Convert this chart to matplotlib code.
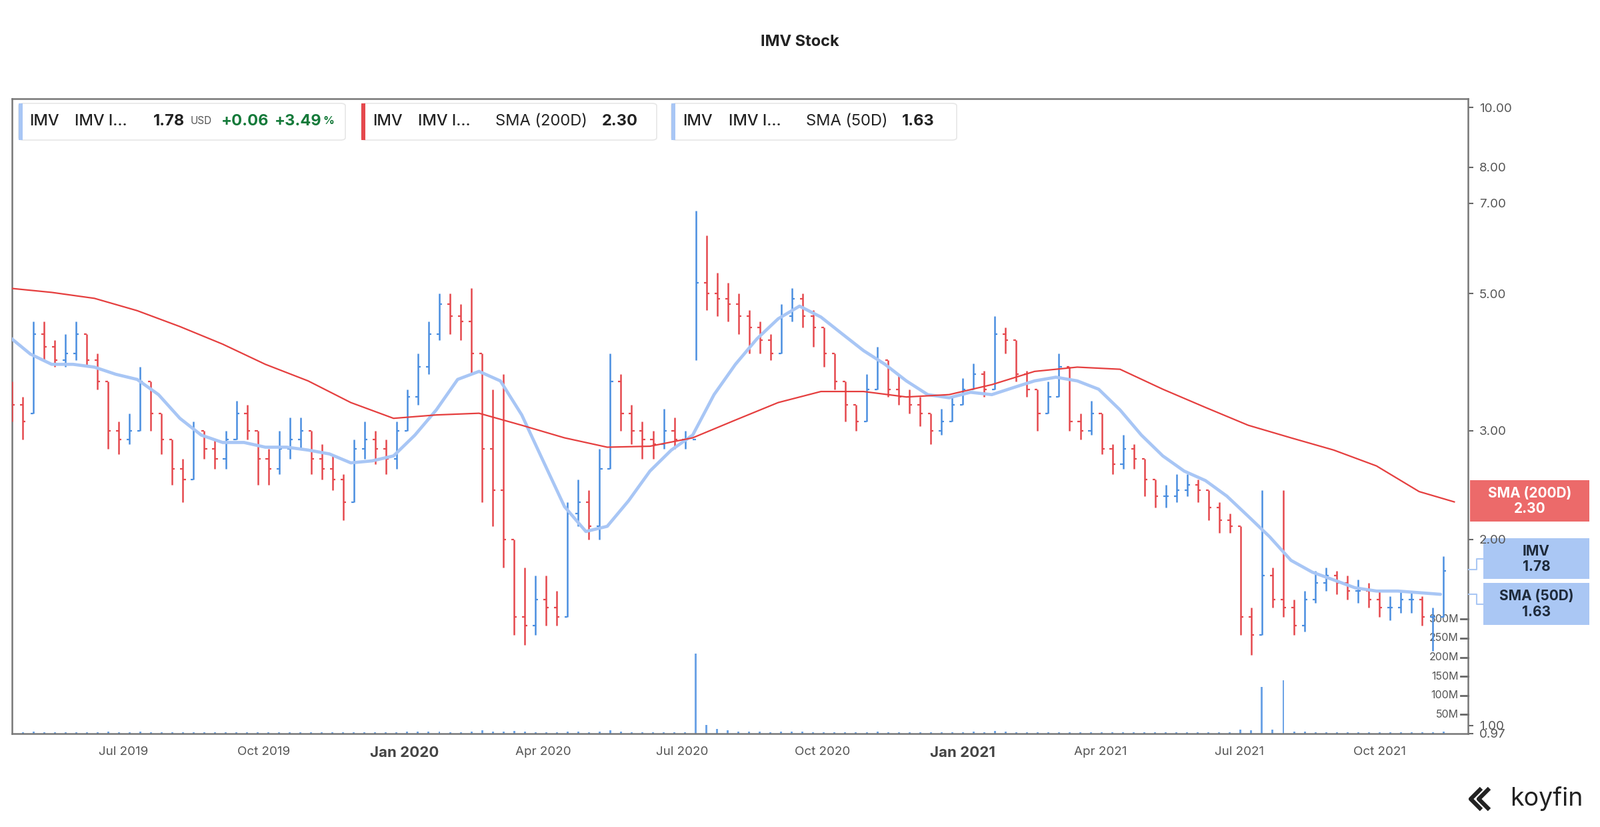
import matplotlib
matplotlib.use("Agg")
import matplotlib.pyplot as plt
import matplotlib.dates as mdates
import matplotlib.transforms as mtrans
from matplotlib.patches import Rectangle, FancyBboxPatch
from matplotlib.lines import Line2D
import pandas as pd
import numpy as np

plt.rcParams["font.family"] = "Inter"

# ---------------- data (weekly bars) ----------------
week_start = "2019-04-19"
n_weeks = 135
close = [3.3,3.1,4.3,4.1,3.9,4.0,4.3,3.9,3.6,3.0,2.9,3.0,3.6,3.2,2.9,2.6,2.5,3.0,2.8,2.7,
         2.9,3.2,3.0,2.7,2.6,2.8,2.9,3.0,2.7,2.6,2.5,2.3,2.8,2.9,2.8,2.7,3.0,3.4,3.8,4.3,
         4.8,4.6,4.5,4.0,2.8,2.4,2.0,1.5,1.45,1.6,1.55,1.5,2.2,2.3,2.1,2.6,3.6,3.2,3.0,2.9,
         2.85,3.0,2.9,2.9,5.2,5.0,4.9,4.8,4.6,4.4,4.2,4.0,4.6,4.9,4.6,4.4,4.0,3.6,3.3,3.1,
         3.5,3.9,3.5,3.4,3.3,3.2,3.0,3.1,3.3,3.5,3.7,3.5,4.3,4.2,3.7,3.5,3.2,3.4,3.8,3.1,
         3.0,3.2,2.8,2.65,2.8,2.7,2.5,2.35,2.35,2.4,2.45,2.4,2.25,2.15,2.1,1.5,1.4,1.75,1.6,1.55,
         1.45,1.6,1.7,1.75,1.7,1.65,1.65,1.6,1.55,1.55,1.6,1.6,1.5,1.5,1.78]
open_ = [3.5,3.3,3.2,4.3,4.1,3.9,4.0,4.3,3.9,3.6,3.0,2.9,3.0,3.6,3.2,2.9,2.6,2.5,3.0,2.8,
         2.7,2.9,3.2,3.0,2.7,2.6,2.8,2.9,3.0,2.7,2.6,2.5,2.3,2.8,2.9,2.8,2.7,3.0,3.4,3.8,
         4.3,4.8,4.6,4.5,4.0,2.8,2.4,2.0,1.5,1.45,1.6,1.55,1.5,2.2,2.3,2.1,2.6,3.6,3.2,3.0,
         2.9,2.85,3.0,2.9,2.9,5.2,5.0,4.9,4.8,4.6,4.4,4.2,4.0,4.6,4.9,4.6,4.4,4.0,3.6,3.3,
         3.1,3.5,3.9,3.5,3.4,3.3,3.2,3.0,3.1,3.3,3.5,3.7,3.5,4.3,4.2,3.7,3.5,3.2,3.4,3.8,
         3.1,3.0,3.2,2.8,2.65,2.8,2.7,2.5,2.35,2.35,2.4,2.45,2.4,2.25,2.15,2.1,1.5,1.4,1.75,1.6,
         1.55,1.45,1.6,1.7,1.75,1.7,1.65,1.65,1.6,1.55,1.55,1.6,1.6,1.5,1.5]
high = [3.6,3.4,4.5,4.5,4.2,4.3,4.5,4.3,4.0,3.6,3.1,3.2,3.8,3.6,3.2,2.9,2.7,3.1,3.0,2.9,
        3.0,3.35,3.3,3.0,2.8,3.0,3.15,3.15,3.0,2.85,2.75,2.55,2.9,3.1,3.0,2.9,3.1,3.5,4.0,4.5,
        5.0,5.0,4.8,5.1,4.0,3.5,3.7,2.0,1.8,1.75,1.75,1.65,2.3,2.5,2.4,2.8,4.0,3.7,3.3,3.1,
        3.0,3.25,3.15,3.0,6.8,6.2,5.4,5.2,5.0,4.7,4.5,4.3,4.8,5.1,5.0,4.7,4.4,4.0,3.6,3.3,
        3.7,4.1,3.9,3.7,3.5,3.4,3.2,3.25,3.4,3.65,3.85,3.75,4.6,4.4,4.2,3.75,3.5,3.6,4.0,3.8,
        3.2,3.35,3.2,2.85,2.95,2.85,2.7,2.5,2.45,2.55,2.55,2.5,2.4,2.3,2.2,2.1,1.55,2.4,1.8,2.4,
        1.6,1.65,1.78,1.8,1.78,1.75,1.72,1.7,1.65,1.62,1.65,1.65,1.62,1.55,1.88]
low = [3.1,2.9,3.2,3.9,3.8,3.8,3.9,3.8,3.5,2.8,2.75,2.85,3.0,3.0,2.75,2.45,2.3,2.5,2.7,2.6,
       2.6,2.9,2.9,2.45,2.45,2.55,2.7,2.8,2.55,2.5,2.4,2.15,2.3,2.7,2.65,2.55,2.6,3.0,3.3,3.7,
       4.2,4.3,4.2,3.7,2.3,2.1,1.8,1.4,1.35,1.4,1.45,1.45,1.5,2.1,2.0,2.0,2.6,3.0,2.85,2.7,
       2.7,2.8,2.8,2.8,3.9,4.7,4.6,4.5,4.3,4.0,4.0,3.9,4.0,4.5,4.4,4.1,3.8,3.5,3.1,3.0,
       3.1,3.5,3.4,3.3,3.2,3.05,2.85,2.95,3.1,3.3,3.5,3.4,3.5,4.0,3.6,3.4,3.0,3.2,3.4,3.0,
       2.9,2.95,2.75,2.55,2.6,2.6,2.35,2.25,2.25,2.3,2.35,2.3,2.15,2.05,2.05,1.4,1.3,1.4,1.55,1.5,
       1.4,1.42,1.58,1.65,1.63,1.6,1.58,1.55,1.5,1.48,1.52,1.52,1.45,1.32,1.5]
volume_m = [4,3,6,4,3,3,4,3,3,5,3,3,5,3,3,3,4,4,3,3,
            3,4,3,3,3,3,3,3,3,3,3,4,4,3,3,3,4,5,6,6,
            6,4,4,6,8,6,6,7,5,4,4,3,6,5,4,5,8,5,4,3,
            3,4,3,3,209,22,12,8,6,5,5,4,6,6,5,4,4,4,4,3,
            4,5,4,3,3,3,3,3,4,4,5,4,7,5,4,3,3,3,4,4,
            3,3,3,3,3,3,3,3,3,3,3,3,3,3,3,10,8,123,10,139,
            6,5,4,4,3,3,3,3,3,3,3,3,3,4,6]

sma50_start = "2019-04-17"   # every 2 weeks
sma50 = [4.26,3.99,3.84,3.84,3.80,3.70,3.63,3.43,3.14,2.95,2.87,2.87,2.82,2.82,2.79,2.75,2.66,2.68,2.73,2.95,
         3.24,3.63,3.74,3.61,3.18,2.68,2.26,2.06,2.10,2.31,2.58,2.79,2.95,3.43,3.84,4.22,4.55,4.77,4.58,4.30,
         4.04,3.84,3.61,3.43,3.39,3.46,3.43,3.52,3.61,3.66,3.61,3.50,3.24,2.95,2.73,2.58,2.49,2.35,2.18,2.02,
         1.85,1.77,1.72,1.67,1.65,1.65,1.64,1.63]
sma200_start = "2019-04-17"  # every 4 weeks
sma200 = [5.10,5.02,4.91,4.69,4.42,4.14,3.84,3.61,3.33,3.14,3.18,3.20,3.06,2.92,2.82,2.83,2.92,3.12,3.33,3.47,
          3.47,3.40,3.43,3.56,3.74,3.80,3.77,3.50,3.27,3.06,2.92,2.79,2.63,2.39]
sma200_last = ("2021-11-19", 2.30)

price_ticks = [0.97, 1.00, 2.00, 3.00, 5.00, 7.00, 8.00, 10.00]
vol_ticks_m = [50, 100, 150, 200, 250, 300]
month_ticks = ["2019-07-01","2019-10-01","2020-01-01","2020-04-01","2020-07-01","2020-10-01",
               "2021-01-01","2021-04-01","2021-07-01","2021-10-01"]
month_labels = ["Jul 2019","Oct 2019","Jan 2020","Apr 2020","Jul 2020","Oct 2020",
                "Jan 2021","Apr 2021","Jul 2021","Oct 2021"]

# ---------------- figure ----------------
W, H = 2400, 1240
fig = plt.figure(figsize=(24, 12.4), dpi=100)
def fx(px): return px / W
def fy(py): return 1 - py / H

L, R, T, B = 18, 2202, 148, 1100
ax = fig.add_axes([fx(L), fy(B), fx(R) - fx(L), fy(T) - fy(B)])
ax2 = ax.twinx()
ax.set_zorder(ax2.get_zorder() + 1)
ax.patch.set_visible(False)

dates = pd.date_range(week_start, periods=n_weeks, freq="7D")
x = mdates.date2num(dates)
o, h, l, c = map(np.array, (open_, high, low, close))
up_col, dn_col = "#4a8ee0", "#e5484d"
cols = [up_col if ci >= oi else dn_col for ci, oi in zip(c, o)]
ax.vlines(x, l, h, colors=cols, lw=1.8, zorder=3)
ax.hlines(o, x - 1.8, x, colors=cols, lw=1.6, zorder=3)
ax.hlines(c, x, x + 1.8, colors=cols, lw=1.6, zorder=3)

d50 = pd.date_range(sma50_start, periods=len(sma50), freq="14D")
ax.plot(d50, sma50, color="#a8c6f5", lw=3.4, zorder=4, solid_capstyle="round")
d200 = list(pd.date_range(sma200_start, periods=len(sma200), freq="28D")) + [pd.Timestamp(sma200_last[0])]
ax.plot(d200, sma200 + [sma200_last[1]], color="#e53e3e", lw=1.6, zorder=4)

ax.set_yscale("log")
ax.set_ylim(0.97, 10.33)
ax.set_xlim(pd.Timestamp("2019-04-19"), pd.Timestamp("2021-11-28"))
ax.yaxis.tick_right()
ax.yaxis.set_minor_locator(matplotlib.ticker.NullLocator())
ax.set_yticks(price_ticks)
ax.set_yticklabels([f"{p:.2f}" for p in price_ticks])
ax.tick_params(axis="y", which="major", length=6, width=1.5, color="#666666",
               labelsize=13.5, labelcolor="#555555", pad=6)
ax.set_xticks(mdates.date2num(pd.to_datetime(month_ticks)))
ax.set_xticklabels(month_labels)
ax.tick_params(axis="x", length=0, pad=14, labelsize=13.5, labelcolor="#555555")
for lab in ax.get_xticklabels():
    if lab.get_text().startswith("Jan"):
        lab.set_fontweight("bold"); lab.set_fontsize(16); lab.set_color("#444444")
for s in ["left", "right", "top", "bottom"]:
    ax.spines[s].set_color("#777777"); ax.spines[s].set_linewidth(1.8)

# volume
ax2.bar(dates, np.array(volume_m) * 1e6, width=1.3, color=up_col, alpha=0.8, zorder=2)
ax2.set_ylim(0, 1663e6)
ax2.set_yticks([]); ax2.tick_params(length=0)
for s in ax2.spines.values():
    s.set_visible(False)
trans = mtrans.blended_transform_factory(ax.transAxes, ax2.transData)
for v in vol_ticks_m:
    ax2.text(0.9935, v * 1e6, f"{v}M", transform=trans, ha="right", va="center",
             fontsize=11.5, color="#555555")
    ax2.plot([0.995, 1.0], [v * 1e6] * 2, transform=trans, color="#666666", lw=2, clip_on=False)

# title
fig.text(0.5, fy(63), "IMV Stock", ha="center", va="center", fontsize=17, fontweight="bold", color="#222222")

# legend boxes
def legbox(x0, x1, color):
    fig.add_artist(FancyBboxPatch((fx(x0), fy(210)), fx(x1) - fx(x0), fy(155) - fy(210),
                                  boxstyle="round,pad=0,rounding_size=0.003", fc="white",
                                  ec="#e6e6e6", lw=1.2, transform=fig.transFigure))
    fig.add_artist(Rectangle((fx(x0), fy(210)), fx(6), fy(155) - fy(210), fc=color, ec="none",
                             transform=fig.transFigure))
legbox(28, 518, "#a8c6f5"); legbox(542, 985, "#e5484d"); legbox(1007, 1435, "#a8c6f5")
ty = fy(182)
def lt(xp, s, **kw):
    kw.setdefault("fontsize", 17); kw.setdefault("color", "#222222")
    fig.text(fx(xp), ty, s, va="center", ha="left", **kw)
lt(44, "IMV", fontweight="medium"); lt(112, "IMV I...", fontweight="medium")
lt(230, "1.78", fontweight="bold"); lt(286, "USD", fontsize=11, color="#555555")
lt(332, "+0.06", fontweight="bold", color="#157a3a"); lt(412, "+3.49", fontweight="bold", color="#157a3a")
lt(484, "%", fontsize=12, color="#157a3a", fontweight="bold")
lt(559, "IMV", fontweight="medium"); lt(627, "IMV I...", fontweight="medium")
lt(743, "SMA (200D)"); lt(903, "2.30", fontweight="bold")
lt(1024, "IMV", fontweight="medium"); lt(1093, "IMV I...", fontweight="medium")
lt(1209, "SMA (50D)"); lt(1353, "1.63", fontweight="bold")

# right side value labels
def vbox(x0, x1, y0, y1, fc, lines, tc):
    fig.add_artist(Rectangle((fx(x0), fy(y1)), fx(x1) - fx(x0), fy(y0) - fy(y1), fc=fc, ec="none",
                             transform=fig.transFigure))
    cx = fx((x0 + x1) / 2)
    fig.text(cx, fy(y0 + (y1 - y0) * 0.32), lines[0], ha="center", va="center", fontsize=15,
             fontweight="bold", color=tc)
    fig.text(cx, fy(y0 + (y1 - y0) * 0.70), lines[1], ha="center", va="center", fontsize=15,
             fontweight="bold", color=tc)
vbox(2205, 2384, 720, 782, "#ec6a6a", ("SMA (200D)", "2.30"), "white")
vbox(2225, 2384, 807, 868, "#aac7f4", ("IMV", "1.78"), "#1e2a3a")
vbox(2225, 2384, 874, 937, "#aac7f4", ("SMA (50D)", "1.63"), "#1e2a3a")
for py, by in [(854, 838), (891, 906)]:
    fig.add_artist(Line2D([fx(2203), fx(2215), fx(2215), fx(2225)], [fy(py), fy(py), fy(by), fy(by)],
                          color="#aac7f4", lw=1.5, transform=fig.transFigure))

# logo
fig.text(fx(2375), fy(1198), "koyfin", ha="right", va="center", fontsize=27, color="#222222")
fig.add_artist(Line2D([fx(2222), fx(2206), fx(2222)], [fy(1182), fy(1198), fy(1214)],
                      color="#222222", lw=4.5, transform=fig.transFigure, solid_capstyle="butt"))
fig.add_artist(Line2D([fx(2234), fx(2218), fx(2234)], [fy(1182), fy(1198), fy(1214)],
                      color="#222222", lw=4.5, transform=fig.transFigure, solid_capstyle="butt"))

fig.savefig("out.png", dpi=100)
